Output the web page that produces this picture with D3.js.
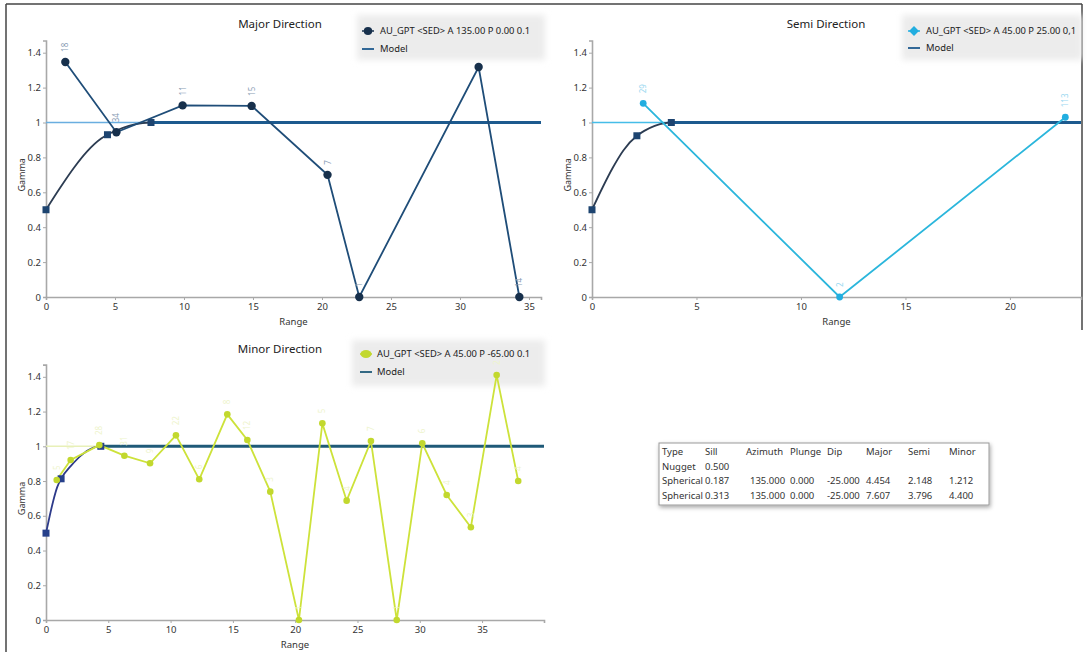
<!DOCTYPE html>
<html><head><meta charset="utf-8">
<script src="https://cdn.jsdelivr.net/npm/d3@7"></script>
<style>
body{margin:0;background:#fff;}
svg{font-family:"Segoe UI","Noto Sans","Open Sans",sans-serif;}
</style></head>
<body><svg id="c" width="1087" height="652"></svg>
<script>
// ---------- data ----------
const yTicks = [0, 0.2, 0.4, 0.6, 0.8, 1, 1.2, 1.4];
const yTickLabels = ["0", "0.2", "0.4", "0.6", "0.8", "1", "1.2", "1.4"];

// Major direction experimental variogram
const majorLag = [1.4, 5.1, 9.9, 14.9, 20.4, 22.7, 31.35, 34.3];
const majorGamma = [1.347, 0.944, 1.098, 1.095, 0.70, 0.0, 1.318, 0.0];
const majorPairs = ["18", "34", "11", "15", "7", "1", "", "14"];
const majorModelH = [0, 1, 2, 3, 4, 4.454, 5, 6, 7, 7.607];
const majorModelG = [0.5, 0.623, 0.738, 0.836, 0.908, 0.930, 0.951, 0.981, 0.997, 1.0];
const majorModelNodesH = [0, 4.454, 7.607];
const majorModelNodesG = [0.5, 0.930, 1.0];

// Semi direction
const semiLag = [2.45, 11.85, 22.65];
const semiGamma = [1.11, 0.0, 1.03];
const semiPairs = ["29", "2", "113"];
const semiModelH = [0, 0.5, 1, 1.5, 2.148, 2.5, 3, 3.5, 3.796];
const semiModelG = [0.5, 0.626, 0.742, 0.840, 0.924, 0.952, 0.981, 0.997, 1.0];
const semiModelNodesH = [0, 2.148, 3.796];
const semiModelNodesG = [0.5, 0.924, 1.0];

// Minor direction
const minorLag = [0.86, 1.98, 4.28, 6.29, 8.35, 10.43, 12.3, 14.55, 16.16, 18.0, 20.3, 22.18, 24.13, 26.08, 28.15, 30.2, 32.16, 34.1, 36.17, 37.9];
const minorGamma = [0.806, 0.921, 1.007, 0.946, 0.902, 1.063, 0.81, 1.184, 1.036, 0.739, 0.0, 1.132, 0.687, 1.03, 0.0, 1.017, 0.72, 0.534, 1.41, 0.80];
const minorPairs = ["5", "17", "28", "31", "9", "22", "6", "8", "12", "3", "1", "5", "4", "7", "1", "6", "4", "3", "2", "4"];
const minorModelH = [0, 0.3, 0.6, 0.9, 1.212, 2, 3, 4, 4.4];
const minorModelG = [0.5, 0.600, 0.691, 0.765, 0.813, 0.887, 0.958, 0.996, 1.0];
const minorModelNodesH = [0, 1.212, 4.4];
const minorModelNodesG = [0.5, 0.813, 1.0];

// Model table
const tableHeader = ["Type", "Sill", "Azimuth", "Plunge", "Dip", "Major", "Semi", "Minor"];
const tableRows = [
  ["Nugget", "0.500", "", "", "", "", "", ""],
  ["Spherical", "0.187", "135.000", "0.000", "-25.000", "4.454", "2.148", "1.212"],
  ["Spherical", "0.313", "135.000", "0.000", "-25.000", "7.607", "3.796", "4.400"]
];

// ---------- drawing ----------
const svg = d3.select("#c");
const defs = svg.append("defs");
const f = defs.append("filter").attr("id","sh").attr("x","-10%").attr("y","-20%").attr("width","130%").attr("height","160%");
f.append("feDropShadow").attr("dx",1).attr("dy",2).attr("stdDeviation",2).attr("flood-color","#000").attr("flood-opacity",0.35);
const lb = defs.append("filter").attr("id","lb").attr("x","-10%").attr("y","-30%").attr("width","120%").attr("height","160%");
lb.append("feGaussianBlur").attr("stdDeviation",3);

// frame
svg.append("line").attr("x1",6).attr("x2",1082).attr("y1",4).attr("y2",4).attr("stroke","#444").attr("stroke-width",1.5);
svg.append("line").attr("x1",6).attr("x2",6).attr("y1",4).attr("y2",652).attr("stroke","#444").attr("stroke-width",1.5);
svg.append("line").attr("x1",1082).attr("x2",1082).attr("y1",4).attr("y2",330).attr("stroke","#444").attr("stroke-width",1.5);

function panel(o){
  const x = d3.scaleLinear().domain([0, o.xmax]).range([o.x0, o.x1]);
  const y = d3.scaleLinear().domain([0, 1.47]).range([o.y0, o.y0 - 1.47*o.ppu]);
  const g = svg.append("g");

  // legend background
  g.append("rect").attr("x",o.lg.x).attr("y",o.lg.y).attr("width",o.lg.w).attr("height",o.lg.h)
    .attr("fill","#ececec").attr("filter","url(#lb)");

  // axes
  const ya = d3.axisLeft(y).tickValues(yTicks).tickFormat((d,i)=>yTickLabels[i]).tickSize(3).tickPadding(2);
  const xa = d3.axisBottom(x).tickValues(o.xticks).tickFormat(d3.format("d")).tickSize(3).tickPadding(3);
  const gy = g.append("g").attr("transform",`translate(${o.x0},0)`).call(ya);
  const gx = g.append("g").attr("transform",`translate(0,${o.y0})`).call(xa);
  [gx,gy].forEach(a=>{
    a.select(".domain").attr("stroke","#a8a8a8").attr("stroke-width",1.6);
    a.selectAll(".tick line").attr("stroke","#a8a8a8");
    a.selectAll(".tick text").attr("fill","#333").attr("font-size",9.5).attr("font-family","'Segoe UI','Noto Sans',sans-serif");
  });

  // titles
  g.append("text").attr("x",o.tx).attr("y",o.ty).attr("text-anchor","middle").attr("font-size",11.5).attr("fill","#222").text(o.title);
  g.append("text").attr("x",(o.x0+o.x1)/2).attr("y",o.y0+28).attr("text-anchor","middle").attr("font-size",9.5).attr("fill","#333").text("Range");
  g.append("text").attr("transform",`translate(${o.x0-21},${o.y0-0.7*o.ppu}) rotate(-90)`).attr("text-anchor","middle").attr("font-size",9).attr("fill","#333").text("Gamma");

  // faint sill line
  g.append("line").attr("x1",x(0)).attr("x2",x(o.xmax)).attr("y1",y(1)).attr("y2",y(1)).attr("stroke",o.sillColor).attr("stroke-width",1.5);

  // model
  const lineM = d3.line().x((d,i)=>x(o.mH[i])).y((d,i)=>y(o.mG[i])).curve(d3.curveMonotoneX);
  g.append("path").datum(o.mG).attr("d",lineM).attr("fill","none").attr("stroke",o.modelCurveColor).attr("stroke-width",1.8);
  g.append("line").attr("x1",x(o.mH[o.mH.length-1])).attr("x2",x(o.xmax)).attr("y1",y(1)).attr("y2",y(1)).attr("stroke",o.modelColor).attr("stroke-width",3);

  // experimental
  const lineE = d3.line().x((d,i)=>x(o.lag[i])).y((d,i)=>y(o.gam[i]));
  g.append("path").datum(o.gam).attr("d",lineE).attr("fill","none").attr("stroke",o.expColor).attr("stroke-width",1.8);

  // model nodes
  g.selectAll(".mn").data(o.nG).enter().append("rect")
    .attr("x",(d,i)=>x(o.nH[i])-3.5).attr("y",d=>y(d)-3.5).attr("width",7).attr("height",7)
    .attr("fill",o.modelNodeColor);

  // points
  g.selectAll(".pt").data(o.gam).enter().append("circle")
    .attr("cx",(d,i)=>x(o.lag[i])).attr("cy",d=>y(d)).attr("r",o.pr).attr("fill",o.ptColor);
  // pair labels
  g.selectAll(".pl").data(o.pairs).enter().append("text")
    .attr("transform",(d,i)=>`translate(${x(o.lag[i])+3},${y(o.gam[i])-10}) rotate(-90)`)
    .attr("font-size",8).attr("fill",o.labelColor).text(d=>d);

  // legend
  const L = o.lg;
  if(o.legendDiamond){
    g.append("rect").attr("x",L.mx-3.5).attr("y",L.y1-3.5).attr("width",7).attr("height",7)
      .attr("transform",`rotate(45,${L.mx},${L.y1})`).attr("fill",o.ptColor);
  } else {
    g.append("ellipse").attr("cx",L.mx).attr("cy",L.y1).attr("rx",o.legendRx).attr("ry",4).attr("fill",o.ptColor);
  }
  g.append("line").attr("x1",L.mx-6).attr("x2",L.mx+6).attr("y1",L.y1).attr("y2",L.y1).attr("stroke",o.ptColor).attr("stroke-width",1.5);
  g.append("text").attr("x",L.tx).attr("y",L.y1+3.3).attr("font-size",9.4).attr("fill","#222").text(o.legendText);
  g.append("line").attr("x1",L.mx-6).attr("x2",L.mx+6).attr("y1",L.y2).attr("y2",L.y2).attr("stroke",o.modelColor).attr("stroke-width",1.8);
  g.append("text").attr("x",L.tx).attr("y",L.y2+3.3).attr("font-size",9.4).attr("fill","#222").text("Model");
}

panel({
  title:"Major Direction", tx:280, ty:28,
  x0:46, x1:541, xmax:35.87, y0:297, ppu:174.5, xticks:[0,5,10,15,20,25,30,35],
  lag:majorLag, gam:majorGamma, pairs:majorPairs,
  mH:majorModelH, mG:majorModelG, nH:majorModelNodesH, nG:majorModelNodesG,
  sillColor:"#6aaee0", modelColor:"#1d5a8e", modelCurveColor:"#2c3c52", modelNodeColor:"#1d4470",
  expColor:"#1f4d78", ptColor:"#17304c", pr:4.2, labelColor:"#8a9db5",
  legendText:"AU_GPT <SED> A 135.00 P 0.00 0.1", legendRx:4.2,
  lg:{x:357,y:15,w:188,h:45,mx:368,tx:380,y1:31,y2:49}
});
panel({
  title:"Semi Direction", tx:826, ty:28,
  x0:592, x1:1081, xmax:23.4, y0:297, ppu:174.5, xticks:[0,5,10,15,20],
  lag:semiLag, gam:semiGamma, pairs:semiPairs,
  mH:semiModelH, mG:semiModelG, nH:semiModelNodesH, nG:semiModelNodesG,
  sillColor:"#45bde8", modelColor:"#1d5a8e", modelCurveColor:"#2c3c52", modelNodeColor:"#1d4470",
  expColor:"#2bb6dc", ptColor:"#22aee0", pr:3.4, labelColor:"#9ad8f0",
  legendText:"AU_GPT <SED> A 45.00 P 25.00 0,1", legendDiamond:true,
  lg:{x:902,y:15,w:180,h:45,mx:914,tx:926,y1:31,y2:48}
});
panel({
  title:"Minor Direction", tx:280, ty:353,
  x0:46, x1:544, xmax:39.97, y0:620, ppu:173.7, xticks:[0,5,10,15,20,25,30,35],
  lag:minorLag, gam:minorGamma, pairs:minorPairs,
  mH:minorModelH, mG:minorModelG, nH:minorModelNodesH, nG:minorModelNodesG,
  sillColor:"#e8f0b8", modelColor:"#1f5a78", modelCurveColor:"#2d3a8a", modelNodeColor:"#26408a",
  expColor:"#cde23a", ptColor:"#c2d82e", pr:3.3, labelColor:"#eef4cc",
  legendText:"AU_GPT <SED> A 45.00 P -65.00 0.1", legendRx:5.5,
  lg:{x:352,y:340,w:193,h:46,mx:366,tx:377,y1:354,y2:372}
});

// table
const colX = [662, 705, 746, 790, 827, 866, 908, 949];
const rowY = [455, 469.5, 484, 498.5];
const tg = svg.append("g");
tg.append("rect").attr("x",659).attr("y",443).attr("width",330).attr("height",62)
  .attr("fill","#fff").attr("stroke","#9a9a9a").attr("stroke-width",1).attr("filter","url(#sh)");
tg.selectAll(".th").data(tableHeader).enter().append("text")
  .attr("x",(d,i)=>colX[i]).attr("y",rowY[0]).attr("font-size",9.5).attr("fill","#333").text(d=>d);
tableRows.forEach((row,r)=>{
  tg.selectAll(".tr"+r).data(row).enter().append("text")
    .attr("x",(d,i)=>colX[i] + (i===2?4:0)).attr("y",rowY[r+1]).attr("font-size",9.5).attr("fill","#333").text(d=>d);
});
</script></body></html>
